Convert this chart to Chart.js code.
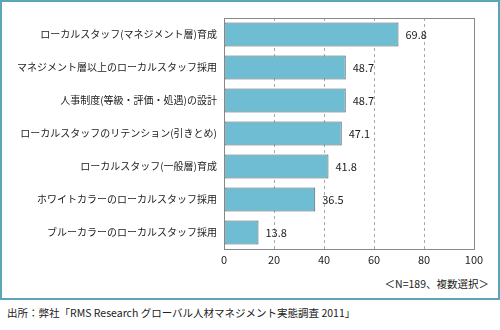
<!DOCTYPE html>
<html><head><meta charset="utf-8">
<script src="https://cdn.jsdelivr.net/npm/chart.js@4/dist/chart.umd.min.js"></script>
<style>
html,body{margin:0;padding:0;background:#fff;width:500px;height:330px;overflow:hidden;font-family:"Noto Sans CJK JP","Noto Sans",sans-serif;}
#box{position:absolute;left:0;top:0;width:496px;height:296px;border:2px solid #5aa6b6;}
#wrap{position:absolute;left:0;top:0;width:500px;height:272px;}
#note{position:absolute;right:11px;top:276px;font-size:10.5px;color:#222;}
#src{position:absolute;left:7px;top:305px;font-size:10.5px;color:#222;}
</style></head><body>
<div id="box"></div>
<div id="wrap"><canvas id="c"></canvas></div>
<div id="note">＜N=189、複数選択＞</div>
<div id="src">出所：弊社「RMS Research グローバル人材マネジメント実態調査 2011」</div>
<script>
const categories=["ローカルスタッフ(マネジメント層)育成","マネジメント層以上のローカルスタッフ採用","人事制度(等級・評価・処遇)の設計","ローカルスタッフのリテンション(引きとめ)","ローカルスタッフ(一般層)育成","ホワイトカラーのローカルスタッフ採用","ブルーカラーのローカルスタッフ採用"];
const values=[69.8,48.7,48.7,47.1,41.8,36.5,13.8];
const xTicks=[0,20,40,60,80,100];
const FONT='"Noto Sans CJK JP","Noto Sans",sans-serif';
const labelPlugin={id:'vals',afterDatasetsDraw(chart){const ctx=chart.ctx;const meta=chart.getDatasetMeta(0);ctx.save();ctx.font='11px '+FONT;ctx.fillStyle='#222';ctx.textBaseline='middle';ctx.textAlign='left';meta.data.forEach((el,i)=>{ctx.fillText(values[i].toFixed(1),el.x+7,el.y);});ctx.restore();}};
const borderPlugin={id:'frame',afterDraw(chart){const a=chart.chartArea,ctx=chart.ctx;ctx.save();ctx.strokeStyle='#888';ctx.lineWidth=1;ctx.strokeRect(Math.round(a.left)+0.5,Math.round(a.top)+0.5,Math.round(a.right-a.left),Math.round(a.bottom-a.top));ctx.restore();}};
new Chart(document.getElementById('c'),{type:'bar',data:{labels:categories,datasets:[{data:values,backgroundColor:'#6fbdd3',borderColor:'#505c60',borderWidth:1,borderSkipped:false,barPercentage:0.72,categoryPercentage:1}]},
options:{indexAxis:'y',responsive:true,maintainAspectRatio:false,animation:false,
layout:{padding:{left:0,right:26,top:18,bottom:0}},
plugins:{legend:{display:false},tooltip:{enabled:false}},
scales:{
x:{min:0,max:100,afterBuildTicks(s){s.ticks=xTicks.map(v=>({value:v}));},
 grid:{color:'#aaa',drawTicks:false,lineWidth:1},border:{display:false,dash:[3,3]},
 ticks:{padding:4,color:'#222',font:{family:FONT,size:11},maxRotation:0},
 afterFit(s){s.height=23;}},
y:{grid:{display:false,drawTicks:false},border:{color:'#888'},ticks:{padding:7,color:'#222',font:{family:FONT,size:10},autoSkip:false},
 afterFit(s){s.width=224;}}
}},plugins:[labelPlugin,borderPlugin]});
</script>
</body></html>
